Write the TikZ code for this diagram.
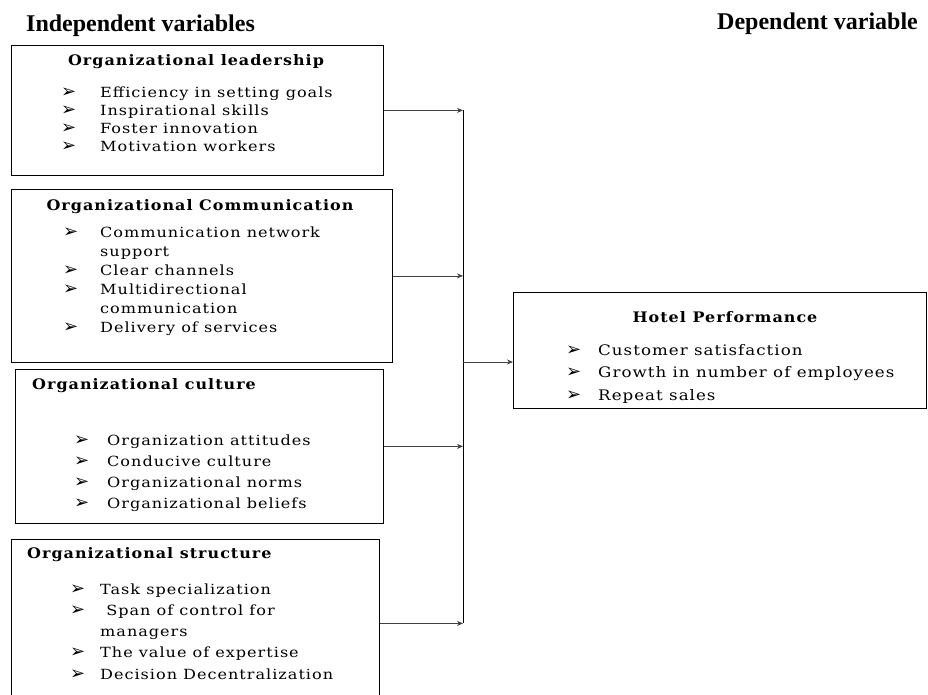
\documentclass[tikz,border=0pt]{standalone}
\usepackage{fontspec}
\setmainfont{DejaVu Serif}
\newfontfamily\hdfont{Liberation Serif}
\newfontfamily\bodyfont{DejaVu Serif}[FakeStretch=1.15, LetterSpace=7]
\newfontfamily\ttlfont{DejaVu Serif}[FakeStretch=1.1, LetterSpace=7]
\newfontfamily\symfont{DejaVu Sans}
\usetikzlibrary{arrows.meta,positioning,calc}

\newcommand{\bul}[1]{\makebox[#1][l]{\symfont\fontsize{18}{18}\selectfont ➢}}
\newcommand{\itemlines}[1]{\parbox[t]{340pt}{#1}}

\begin{document}
\begin{tikzpicture}[x=1pt, y=-1pt,
   box/.style={draw, line width=0.8pt, anchor=north west, inner sep=0pt},
   hdr/.style={anchor=base west, inner sep=0pt, font=\hdfont\bfseries\fontsize{24}{28}\selectfont},
   ttl/.style={anchor=base, inner sep=0pt, font=\ttlfont\bfseries\fontsize{14.5}{17}\selectfont},
   lst/.style={anchor=base west, inner sep=0pt},
   con/.style={-{Stealth[length=6pt,width=5pt]}, line width=0.7pt, black!75}]
  \useasboundingbox (0,0) rectangle (928,695);

  % headings
  \node[hdr] (indep) at (26,32) {Independent variables};
  \node[hdr] (dep) at (717,30) {Dependent variable};

  % boxes
  \node[box, minimum width=372pt, minimum height=130pt] (lead) at (11,45) {};
  \node[box, minimum width=381pt, minimum height=173pt] (comm) at (11,189) {};
  \node[box, minimum width=368pt, minimum height=154pt] (cult) at (15,369) {};
  \node[box, minimum width=368pt, minimum height=168pt] (struc) at (11,539) {};
  \node[box, minimum width=413pt, minimum height=116pt] (perf) at (513,292) {};

  % box texts
  \node[ttl] (leadT) at (196,66) {Organizational leadership};
  \node[lst, font=\bodyfont\fontsize{14}{18}\selectfont] (leadL) at (61,98)
    {\itemlines{\bul{39pt}Efficiency in setting goals\\
     \bul{39pt}Inspirational skills\\
     \bul{39pt}Foster innovation\\
     \bul{39pt}Motivation workers}};

  \node[ttl] (commT) at (200,210) {Organizational Communication};
  \node[lst, font=\bodyfont\fontsize{14}{19}\selectfont] (commL) at (63,237)
    {\itemlines{\bul{37pt}Communication network\\
     \hspace*{37pt}support\\
     \bul{37pt}Clear channels\\
     \bul{37pt}Multidirectional\\
     \hspace*{37pt}communication\\
     \bul{37pt}Delivery of services}};

  \node[ttl, anchor=base west] (cultT) at (32,389) {Organizational culture};
  \node[lst, font=\bodyfont\fontsize{14}{21.3}\selectfont] (cultL) at (74,445)
    {\itemlines{\bul{33pt}Organization attitudes\\
     \bul{33pt}Conducive culture\\
     \bul{33pt}Organizational norms\\
     \bul{33pt}Organizational beliefs}};

  \node[ttl, anchor=base west] (strucT) at (27,558) {Organizational structure};
  \node[lst, font=\bodyfont\fontsize{14}{21.3}\selectfont] (strucL) at (70,594)
    {\itemlines{\bul{30pt}Task specialization\\
     \bul{30pt} Span of control for\\
     \hspace*{30pt}managers\\
     \bul{30pt}The value of expertise\\
     \bul{30pt}Decision Decentralization}};

  \node[ttl] (perfT) at (725,322) {Hotel Performance};
  \node[lst, font=\bodyfont\fontsize{14.5}{22.5}\selectfont] (perfL) at (566,355)
    {\itemlines{\bul{32pt}Customer satisfaction\\
     \bul{32pt}Growth in number of employees\\
     \bul{32pt}Repeat sales}};

  % connectors into the collecting line
  \coordinate (j1) at (463,110);
  \coordinate (j4) at (463,623);
  \coordinate (jm) at (463,362);
  \draw[line width=1pt] (j1) -- (j4);
  \draw[con] (lead.east) -- (lead.east -| j1);
  \draw[con] (comm.east) -- (comm.east -| j1);
  \draw[con] (cult.east) -- (cult.east -| j1);
  \draw[con] (struc.east) -- (struc.east -| j1);
  \draw[con] (jm) -- (jm -| perf.west);
\end{tikzpicture}
\end{document}
